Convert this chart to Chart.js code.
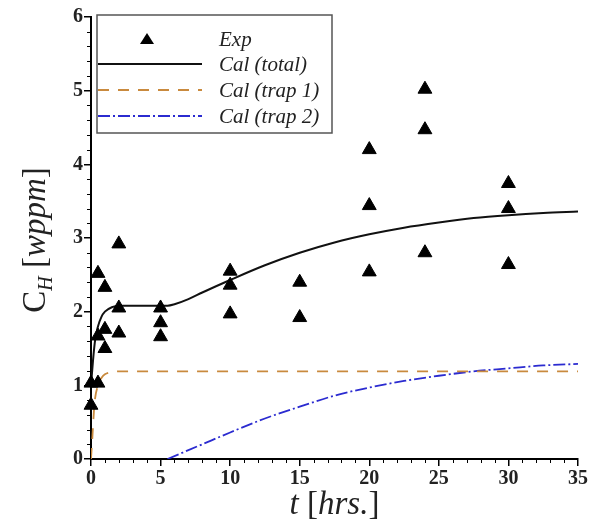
<!DOCTYPE html>
<html>
<head>
<meta charset="utf-8">
<script src="https://cdn.jsdelivr.net/npm/chart.js@4.4.0/dist/chart.umd.min.js"></script>
<style>
    html, body { margin: 0; padding: 0; background: #fff; }
    #wrap { width: 593px; height: 524px; position: relative; }
</style>
</head>
<body>
<div id="wrap"><canvas id="chart" width="593" height="524"></canvas></div>
<script>
// --- Data ---
const expTime = [0, 0, 0.5, 0.5, 0.5, 1, 1, 1, 2, 2, 2, 5, 5, 5, 10, 10, 10, 15, 15, 20, 20, 20, 24, 24, 24, 30, 30, 30];
const expConc = [1.03, 0.73, 2.52, 1.67, 1.03, 2.33, 1.76, 1.5, 2.92, 2.05, 1.71, 2.05, 1.85, 1.66, 2.55, 2.36, 1.97, 2.4, 1.92, 4.2, 3.44, 2.54, 5.02, 4.47, 2.8, 3.74, 3.4, 2.64];

const totalTime = [0, 0.15, 0.3, 0.5, 0.75, 1, 1.5, 2, 3, 4, 5, 5.5, 6, 7, 8, 10, 12.5, 15, 17.5, 20, 22.5, 25, 27.5, 30, 32.5, 35];
const totalConc = [1.0, 1.35, 1.62, 1.8, 1.93, 2.0, 2.06, 2.08, 2.08, 2.08, 2.08, 2.08, 2.1, 2.17, 2.26, 2.43, 2.63, 2.8, 2.94, 3.05, 3.14, 3.21, 3.27, 3.31, 3.34, 3.36];

const trap1Time = [0, 0.1, 0.25, 0.5, 0.75, 1, 1.5, 2, 35];
const trap1Conc = [0, 0.3, 0.75, 1.0, 1.1, 1.15, 1.18, 1.19, 1.19];

const trap2Time = [5.5, 7, 8, 10, 12.5, 15, 17.5, 20, 22.5, 25, 27.5, 30, 32.5, 35];
const trap2Conc = [0, 0.12, 0.2, 0.36, 0.55, 0.71, 0.86, 0.97, 1.06, 1.13, 1.19, 1.23, 1.27, 1.29];

const seriesLabels = ['Exp', 'Cal (total)', 'Cal (trap 1)', 'Cal (trap 2)'];

const toXY = (xs, ys) => xs.map((x, i) => ({ x: x, y: ys[i] }));

const SERIF = '"Liberation Serif", "DejaVu Serif", serif';

// minor tick marks on both axes
const minorTicks = {
    id: 'minorTicks',
    afterDraw(chart) {
        const { ctx, scales: { x, y }, chartArea } = chart;
        ctx.save();
        ctx.strokeStyle = '#000';
        ctx.lineWidth = 1;
        ctx.beginPath();
        for (let t = 0; t <= 35; t++) {
            if (t % 5 === 0) continue;
            const px = Math.round(x.getPixelForValue(t)) + 0.5;
            ctx.moveTo(px, chartArea.bottom);
            ctx.lineTo(px, chartArea.bottom + 4);
        }
        for (let k = 0; k <= 30; k++) {
            if (k % 5 === 0) continue;
            const py = Math.round(y.getPixelForValue(k * 0.2)) + 0.5;
            ctx.moveTo(chartArea.left - 4, py);
            ctx.lineTo(chartArea.left, py);
        }
        ctx.stroke();
        ctx.restore();
    }
};

// legend box inside the plot, top left
const boxLegend = {
    id: 'boxLegend',
    afterDraw(chart) {
        const ctx = chart.ctx;
        const bx = 97, by = 15, bw = 235, bh = 118;
        const rows = [39, 64, 90, 116];
        ctx.save();
        ctx.fillStyle = '#fff';
        ctx.fillRect(bx, by, bw, bh);
        ctx.strokeStyle = '#555';
        ctx.lineWidth = 1.5;
        ctx.strokeRect(bx, by, bw, bh);

        chart.data.datasets.forEach((ds, i) => {
            const ry = rows[i];
            if (i === 0) {
                ctx.fillStyle = '#000';
                ctx.beginPath();
                ctx.moveTo(147, ry - 6);
                ctx.lineTo(154, ry + 5);
                ctx.lineTo(140, ry + 5);
                ctx.closePath();
                ctx.fill();
            } else {
                ctx.strokeStyle = ds.borderColor;
                ctx.lineWidth = ds.borderWidth;
                ctx.setLineDash(ds.borderDash || []);
                ctx.beginPath();
                ctx.moveTo(bx + 1, ry);
                ctx.lineTo(202, ry);
                ctx.stroke();
                ctx.setLineDash([]);
            }
            ctx.fillStyle = '#222';
            ctx.font = 'italic 21px ' + SERIF;
            ctx.textBaseline = 'middle';
            ctx.textAlign = 'left';
            ctx.fillText(seriesLabels[i], 219, ry + 1);
        });
        ctx.restore();
    }
};

// axis titles with mixed italic / subscript
const axisTitles = {
    id: 'axisTitles',
    afterDraw(chart) {
        const ctx = chart.ctx;
        const { chartArea } = chart;
        const drawParts = (parts, cx, cy) => {
            let total = 0;
            parts.forEach(p => { ctx.font = p.font; total += ctx.measureText(p.text).width; });
            let pos = cx - total / 2;
            parts.forEach(p => {
                ctx.font = p.font;
                ctx.fillText(p.text, pos, cy + (p.dy || 0));
                pos += ctx.measureText(p.text).width;
            });
        };
        ctx.save();
        ctx.fillStyle = '#222';
        ctx.textBaseline = 'alphabetic';
        ctx.textAlign = 'left';
        const reg = '33px ' + SERIF, ita = 'italic 33px ' + SERIF;
        drawParts([
            { text: 't', font: ita },
            { text: ' [', font: reg },
            { text: 'hrs.', font: ita },
            { text: ']', font: reg }
        ], (chartArea.left + chartArea.right) / 2, 514);

        ctx.translate(45, (chartArea.top + chartArea.bottom) / 2 + 2);
        ctx.rotate(-Math.PI / 2);
        drawParts([
            { text: 'C', font: reg },
            { text: 'H', font: 'italic 20px ' + SERIF, dy: 7 },
            { text: ' [', font: reg },
            { text: 'wppm', font: ita },
            { text: ']', font: reg }
        ], 0, 0);
        ctx.restore();
    }
};

const tickFont = { family: SERIF, size: 20, weight: 'bold' };

new Chart(document.getElementById('chart').getContext('2d'), {
    type: 'scatter',
    data: {
        datasets: [
            {
                label: seriesLabels[0],
                data: toXY(expTime, expConc),
                pointStyle: 'triangle',
                pointRadius: 8,
                backgroundColor: '#000',
                borderColor: '#000',
                borderWidth: 1,
                showLine: false,
                clip: false
            },
            {
                label: seriesLabels[1],
                data: toXY(totalTime, totalConc),
                showLine: true,
                borderColor: '#111',
                borderWidth: 2,
                pointRadius: 0,
                cubicInterpolationMode: 'monotone'
            },
            {
                label: seriesLabels[2],
                data: toXY(trap1Time, trap1Conc),
                showLine: true,
                borderColor: '#c98a3e',
                borderWidth: 1.8,
                borderDash: [11, 9],
                pointRadius: 0,
                cubicInterpolationMode: 'monotone'
            },
            {
                label: seriesLabels[3],
                data: toXY(trap2Time, trap2Conc),
                showLine: true,
                borderColor: '#2b2bd0',
                borderWidth: 1.8,
                borderDash: [12, 3, 2, 3],
                pointRadius: 0,
                cubicInterpolationMode: 'monotone'
            }
        ]
    },
    options: {
        responsive: false,
        animation: false,
        layout: { padding: { left: 0, top: 17, right: 15, bottom: 0 } },
        plugins: {
            legend: { display: false },
            tooltip: { enabled: false }
        },
        scales: {
            x: {
                type: 'linear',
                min: 0,
                max: 35,
                ticks: { stepSize: 5, color: '#222', font: tickFont, padding: 1, maxRotation: 0 },
                grid: { display: true, drawOnChartArea: false, drawTicks: true, tickLength: 7, color: '#000', lineWidth: 1.5 },
                border: { display: true, color: '#000', width: 2 },
                afterFit(scale) { scale.height = 65; }
            },
            y: {
                min: 0,
                max: 6,
                ticks: { stepSize: 1, color: '#222', font: tickFont, padding: 1 },
                grid: { display: true, drawOnChartArea: false, drawTicks: true, tickLength: 7, color: '#000', lineWidth: 1.5 },
                border: { display: true, color: '#000', width: 2 },
                afterFit(scale) { scale.width = 91; }
            }
        }
    },
    plugins: [minorTicks, boxLegend, axisTitles]
});
</script>
</body>
</html>
